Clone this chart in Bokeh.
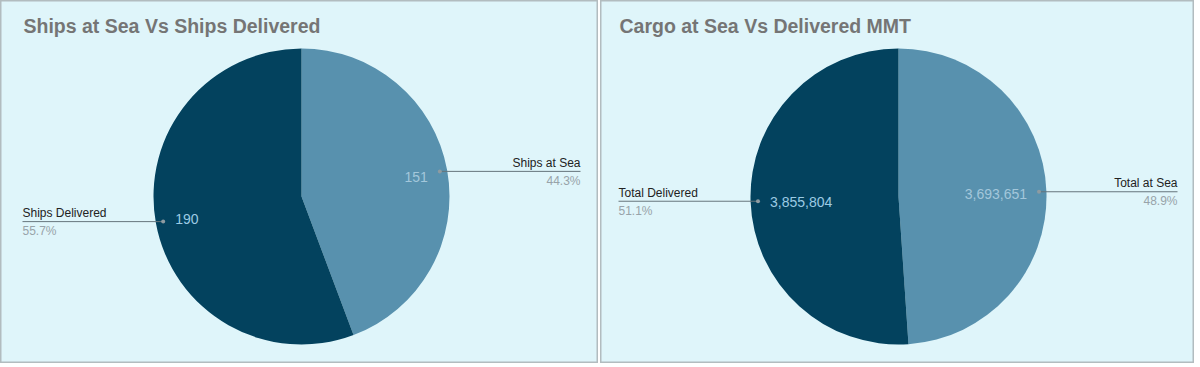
import math
from bokeh.plotting import figure
from bokeh.models import Range1d, Label, ColumnDataSource
from bokeh.layouts import row
from bokeh.embed import file_html
from bokeh.resources import INLINE

# ---- data ----
titles = ["Ships at Sea Vs Ships Delivered", "Cargo at Sea Vs Delivered MMT"]
ships_labels = ["Ships at Sea", "Ships Delivered"]
ships_values = [151, 190]
cargo_labels = ["Total at Sea", "Total Delivered"]
cargo_values = [3693651, 3855804]

# ---- style ----
BG = "#DFF5FA"
SLICE_COLORS = ["#5891AE", "#03425E"]
VALUE_COLORS = ["#A3C7DB", "#9CCBE4"]
FONT = "Liberation Sans"
H = 363
R = 148


def make(title, labels, values, width, cx, cy, title_x, left_x, right_x):
    p = figure(width=width, height=H, output_backend="svg", toolbar_location=None,
               x_range=Range1d(0, width), y_range=Range1d(0, H),
               min_border=0, min_border_left=0, min_border_right=0,
               min_border_top=0, min_border_bottom=0)
    p.axis.visible = False
    p.grid.visible = False
    p.background_fill_color = BG
    p.border_fill_color = BG
    p.outline_line_color = "#B2BCBF"
    p.outline_line_width = 2

    total = sum(values)
    fracs = [v / total for v in values]
    starts, ends = [], []
    a = math.pi / 2
    for f in fracs:
        ends.append(a)
        a -= f * 2 * math.pi
        starts.append(a)
    src = ColumnDataSource(dict(start=starts, end=ends, color=SLICE_COLORS))
    p.wedge(x=cx, y=cy, radius=R, start_angle="start", end_angle="end",
            fill_color="color", line_color=None, source=src)

    p.add_layout(Label(x=title_x, y=H - 25, text=title, text_font=FONT,
                       text_font_size="19.5px", text_font_style="bold",
                       text_color="#757575", text_baseline="alphabetic"))

    for i, (lab, v, f, s, e) in enumerate(zip(labels, values, fracs, starts, ends)):
        mid = (s + e) / 2
        dx, dy = math.cos(mid), math.sin(mid)
        px = cx + 0.95 * R * dx
        py = cy + 0.95 * R * dy
        vy = cy + 0.79 * R * dy - 1.5
        right = dx > 0
        outer = right_x if right else left_x
        align = "right" if right else "left"
        p.line([px, outer], [py, py], line_color="#66757C", line_width=1)
        p.scatter([px], [py], size=4, fill_color="#8E9BA1", line_color=None)
        p.add_layout(Label(x=px - 12 if right else px + 12, y=vy, text=f"{v:,}",
                           text_font=FONT, text_font_size="14px",
                           text_color=VALUE_COLORS[i], text_align="right" if right else "left",
                           text_baseline="middle"))
        p.add_layout(Label(x=outer, y=py + 8.5, text=lab, text_font=FONT,
                           text_font_size="12px", text_color="#222222",
                           text_align=align, text_baseline="alphabetic"))
        p.add_layout(Label(x=outer, y=py - 9.5, text=f"{f * 100:.1f}%", text_font=FONT,
                           text_font_size="12px", text_color="#98A3A9",
                           text_align=align, text_baseline="alphabetic"))
    return p


p1 = make(titles[0], ships_labels, ships_values, 598, 301, 167, 23, 22, 580)
p2 = make(titles[1], cargo_labels, cargo_values, 594, 298, 167, 19, 18, 577)
layout = row(p1, p2, spacing=2)

open("out.html", "w").write(file_html(layout, INLINE))
